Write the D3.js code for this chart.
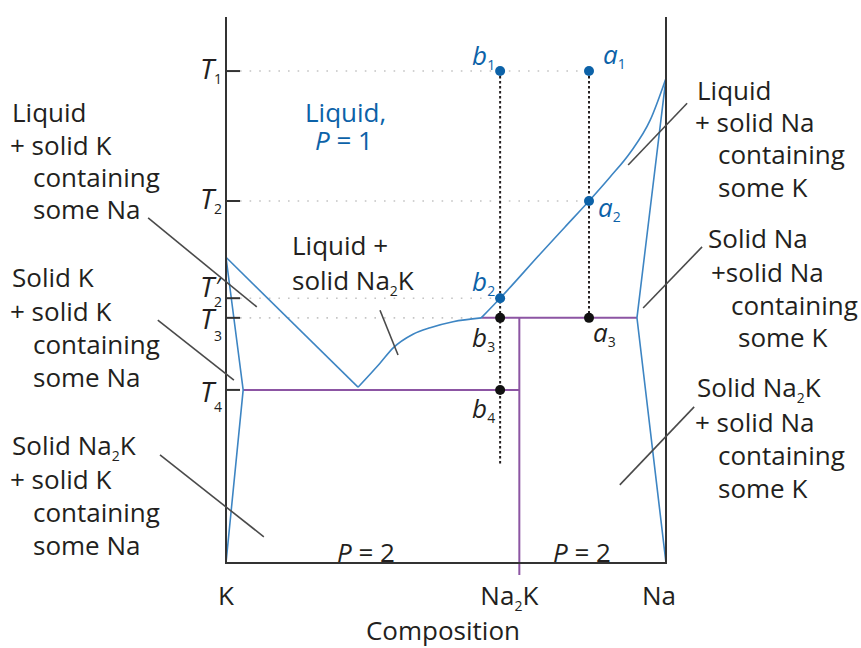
<!DOCTYPE html>
<html>
<head>
<meta charset="utf-8">
<script src="https://cdn.jsdelivr.net/npm/d3@7"></script>
<style>
  body { margin: 0; background: #fff; }
  text { font-family: "Open Sans", sans-serif; fill: #231f20; }
</style>
</head>
<body>
<div id="phase_chart"></div>
<script>
// composition = mole fraction of Na (K = 0, Na = 1), temperature in arbitrary units

// composition axis labels
var compNames = ["K", "Na\u2082K", "Na"];
var compValues = [0, 2 / 3, 1];

// temperature ticks
var tempNames = ["1", "2", "2", "3", "4"];
var tempPrime = [false, false, true, false, false];
var tempValues = [90.1, 66.3, 48.5, 44.9, 31.7];

// liquidus on the Na side (peritectic point up to Na melting point)
var naLiquidusX = [0.580, 0.623, 0.714, 0.770, 0.825, 0.873, 0.918, 0.964, 1.0];
var naLiquidusT = [44.9, 48.5, 56.6, 61.5, 66.3, 70.7, 75.1, 81.1, 88.8];

// liquidus of Na2K (eutectic up to peritectic)
var na2kLiquidusX = [0.300, 0.350, 0.380, 0.425, 0.464, 0.516, 0.580];
var na2kLiquidusT = [32.2, 36.6, 39.4, 41.9, 43.1, 44.2, 44.9];

// liquidus on the K side (K melting point down to eutectic)
var kLiquidusX = [0, 0.300];
var kLiquidusT = [56.0, 32.2];

// solid solution boundaries
var kSolidusX = [0, 0.039, 0];
var kSolidusT = [56.0, 31.7, 0];
var naSolidusX = [1, 0.934, 1];
var naSolidusT = [88.8, 44.9, 0];

// isopleths a and b
var isoX = { a: 0.825, b: 0.623 };
var bottomOfB = 18.1;

// state points
var bluePoints = [
  { name: "b", sub: "1", x: 0.623, t: 90.1 },
  { name: "a", sub: "1", x: 0.825, t: 90.1 },
  { name: "a", sub: "2", x: 0.825, t: 66.3 },
  { name: "b", sub: "2", x: 0.623, t: 48.5 }
];
var blackPoints = [
  { name: "b", sub: "3", x: 0.623, t: 44.9 },
  { name: "a", sub: "3", x: 0.825, t: 44.9 },
  { name: "b", sub: "4", x: 0.623, t: 31.7 }
];

// leader lines [x1, t1, x2, t2]
var leaders = [
  [-0.177, 63.2, 0.070, 46.9],
  [-0.155, 44.5, 0.018, 33.5],
  [0.350, 46.3, 0.391, 38.1],
  [-0.150, 19.8, 0.086, 4.8],
  [1.048, 84.2, 0.914, 72.9],
  [1.082, 57.9, 0.948, 46.7],
  [1.064, 28.6, 0.895, 14.3]
];

var width = 861, height = 648;
var x = d3.scaleLinear().domain([0, 1]).range([226, 666]);
var y = d3.scaleLinear().domain([0, 100]).range([563, 17]);

var blue = "#3d85c3", dotBlue = "#0c62a8", purple = "#8c55a3", ink = "#231f20";

var svg = d3.select("#phase_chart")
  .append("svg")
    .attr("width", width)
    .attr("height", height);

var line = d3.line().x(function(d) { return x(d[0]); }).y(function(d) { return y(d[1]); });
var smooth = d3.line().x(function(d) { return x(d[0]); }).y(function(d) { return y(d[1]); })
  .curve(d3.curveMonotoneX);

function zipPts(xs, ts) { return xs.map(function(v, i) { return [v, ts[i]]; }); }

// dotted grey guides from the temperature axis
var guideEnds = [isoX.a, isoX.a, isoX.b, 0.580];
svg.append("g").selectAll("line")
  .data([0, 1, 2, 3])
  .enter().append("line")
    .attr("x1", x(0) + 14)
    .attr("x2", function(i) { return x(guideEnds[i]); })
    .attr("y1", function(i) { return y(tempValues[i]); })
    .attr("y2", function(i) { return y(tempValues[i]); })
    .attr("stroke", "#c4c4c4")
    .attr("stroke-width", 1.6)
    .attr("stroke-dasharray", "1.6,8");

// vertical isopleths
svg.append("line")
  .attr("x1", x(isoX.b)).attr("x2", x(isoX.b))
  .attr("y1", y(90.1)).attr("y2", y(bottomOfB))
  .attr("stroke", ink).attr("stroke-width", 2).attr("stroke-dasharray", "2.5,2.5");
svg.append("line")
  .attr("x1", x(isoX.a)).attr("x2", x(isoX.a))
  .attr("y1", y(90.1)).attr("y2", y(44.9))
  .attr("stroke", ink).attr("stroke-width", 2).attr("stroke-dasharray", "2.5,2.5");

// purple tie lines and Na2K line
svg.append("path").datum([[0.580, 44.9], [0.934, 44.9]])
  .attr("d", line).attr("stroke", purple).attr("stroke-width", 2).attr("fill", "none");
svg.append("path").datum([[0.039, 31.7], [2 / 3, 31.7]])
  .attr("d", line).attr("stroke", purple).attr("stroke-width", 2).attr("fill", "none");
svg.append("path").datum([[2 / 3, 44.9], [2 / 3, -2.2]])
  .attr("d", line).attr("stroke", purple).attr("stroke-width", 2).attr("fill", "none");

// blue phase boundaries
var curves = [
  [zipPts(naLiquidusX, naLiquidusT), smooth],
  [zipPts(na2kLiquidusX, na2kLiquidusT), smooth],
  [zipPts(kLiquidusX, kLiquidusT), line],
  [zipPts(kSolidusX, kSolidusT), line],
  [zipPts(naSolidusX, naSolidusT), line]
];
curves.forEach(function(c) {
  svg.append("path").datum(c[0])
    .attr("d", c[1])
    .attr("stroke", blue).attr("stroke-width", 1.6).attr("fill", "none");
});

// frame
svg.append("path")
  .attr("d", "M" + x(0) + "," + y(100) + "V" + y(0) + "H" + x(1) + "V" + y(100))
  .attr("stroke", "#333").attr("stroke-width", 2).attr("fill", "none");

// temperature ticks
svg.append("g").selectAll("line")
  .data(tempValues)
  .enter().append("line")
    .attr("x1", x(0)).attr("x2", x(0) + 14)
    .attr("y1", function(d) { return y(d); })
    .attr("y2", function(d) { return y(d); })
    .attr("stroke", "#333").attr("stroke-width", 2);

var tNudge = [8, 8, -1, 11, 12];
var subNudge = [5, 5, 10, 12, 10];
tempValues.forEach(function(v, i) {
  var base = y(v) + tNudge[i];
  svg.append("text")
    .attr("x", 214).attr("y", base)
    .attr("text-anchor", "end")
    .style("font-size", "28px").style("font-style", "italic")
    .text("T");
  if (tempPrime[i]) {
    svg.append("text")
      .attr("x", 215).attr("y", base - 2)
      .style("font-size", "24px").style("font-style", "italic")
      .text("\u2032");
  }
  svg.append("text")
    .attr("x", 214).attr("y", base + subNudge[i])
    .style("font-size", "14px")
    .text(tempNames[i]);
});

// leader lines
svg.append("g").selectAll("line")
  .data(leaders)
  .enter().append("line")
    .attr("x1", function(d) { return x(d[0]); })
    .attr("y1", function(d) { return y(d[1]); })
    .attr("x2", function(d) { return x(d[2]); })
    .attr("y2", function(d) { return y(d[3]); })
    .attr("stroke", "#4a4a4a").attr("stroke-width", 1.6);

// state points
svg.append("g").selectAll("circle")
  .data(bluePoints)
  .enter().append("circle")
    .attr("cx", function(d) { return x(d.x); })
    .attr("cy", function(d) { return y(d.t); })
    .attr("r", 5)
    .attr("fill", dotBlue);
svg.append("g").selectAll("circle")
  .data(blackPoints)
  .enter().append("circle")
    .attr("cx", function(d) { return x(d.x); })
    .attr("cy", function(d) { return y(d.t); })
    .attr("r", 5)
    .attr("fill", "#111");

// point labels: offsets from the point
var bOff = [[-28, -6], [14, -7], [9, 16], [-28, -7]];
var kOff = [[-28, 29], [4, 24], [-28, 28]];
function pointLabel(p, off, color) {
  var t = svg.append("text")
    .attr("x", x(p.x) + off[0]).attr("y", y(p.t) + off[1])
    .style("fill", color);
  t.append("tspan").style("font-size", "26px").style("font-style", "italic").text(p.name);
  t.append("tspan").attr("dx", 0).attr("dy", 5).style("font-size", "14px").text(p.sub);
}
bluePoints.forEach(function(p, i) { pointLabel(p, bOff[i], dotBlue); });
blackPoints.forEach(function(p, i) { pointLabel(p, kOff[i], ink); });

// region labels
function block(lines, color) {
  lines.forEach(function(l) {
    var t = svg.append("text")
      .attr("x", l[0]).attr("y", l[1])
      .style("font-size", "26px").style("fill", color || ink);
    l[2].forEach(function(part) {
      var s = t.append("tspan").text(part[0]);
      if (part[1] === "sub") s.attr("dy", 6).style("font-size", "14px");
      if (part[1] === "back") s.attr("dy", -6);
      if (part[1] === "it") s.style("font-style", "italic");
    });
  });
}
var solidNa2K = [["Solid Na"], ["2", "sub"], ["K", "back"]];
block([
  [12, 122, [["Liquid"]]], [10, 155, [["+ solid K"]]],
  [33, 187, [["containing"]]], [33, 219, [["some Na"]]]
]);
block([
  [12, 287, [["Solid K"]]], [10, 321, [["+ solid K"]]],
  [33, 354, [["containing"]]], [33, 387, [["some Na"]]]
]);
block([
  [12, 455, solidNa2K], [10, 489, [["+ solid K"]]],
  [33, 522, [["containing"]]], [33, 555, [["some Na"]]]
]);
block([
  [697, 100, [["Liquid"]]], [695, 132, [["+ solid Na"]]],
  [718, 164, [["containing"]]], [718, 197, [["some K"]]]
]);
block([
  [708, 248, [["Solid Na"]]], [711, 282, [["+solid Na"]]],
  [731, 315, [["containing"]]], [738, 347, [["some K"]]]
]);
block([
  [697, 397, solidNa2K], [695, 432, [["+ solid Na"]]],
  [718, 465, [["containing"]]], [718, 498, [["some K"]]]
]);
block([
  [305, 122, [["Liquid,"]]], [315, 150, [["P", "it"], [" = 1"]]]
], dotBlue);
block([
  [292, 255, [["Liquid +"]]], [292, 290, [["solid Na"], ["2", "sub"], ["K", "back"]]]
]);
block([
  [337, 562, [["P", "it"], [" = 2"]]], [553, 562, [["P", "it"], [" = 2"]]]
]);

// composition axis
var compDx = [0, -10, -7];
compNames.forEach(function(n, i) {
  var t = svg.append("text")
    .attr("x", x(compValues[i]) + compDx[i]).attr("y", 605)
    .attr("text-anchor", "middle")
    .style("font-size", "26px");
  if (n === "Na\u2082K") {
    t.append("tspan").text("Na");
    t.append("tspan").attr("dy", 6).style("font-size", "14px").text("2");
    t.append("tspan").attr("dy", -6).text("K");
  } else {
    t.text(n);
  }
});
svg.append("text")
  .attr("x", 443).attr("y", 640)
  .attr("text-anchor", "middle")
  .style("font-size", "26px")
  .text("Composition");
</script>
</body>
</html>
